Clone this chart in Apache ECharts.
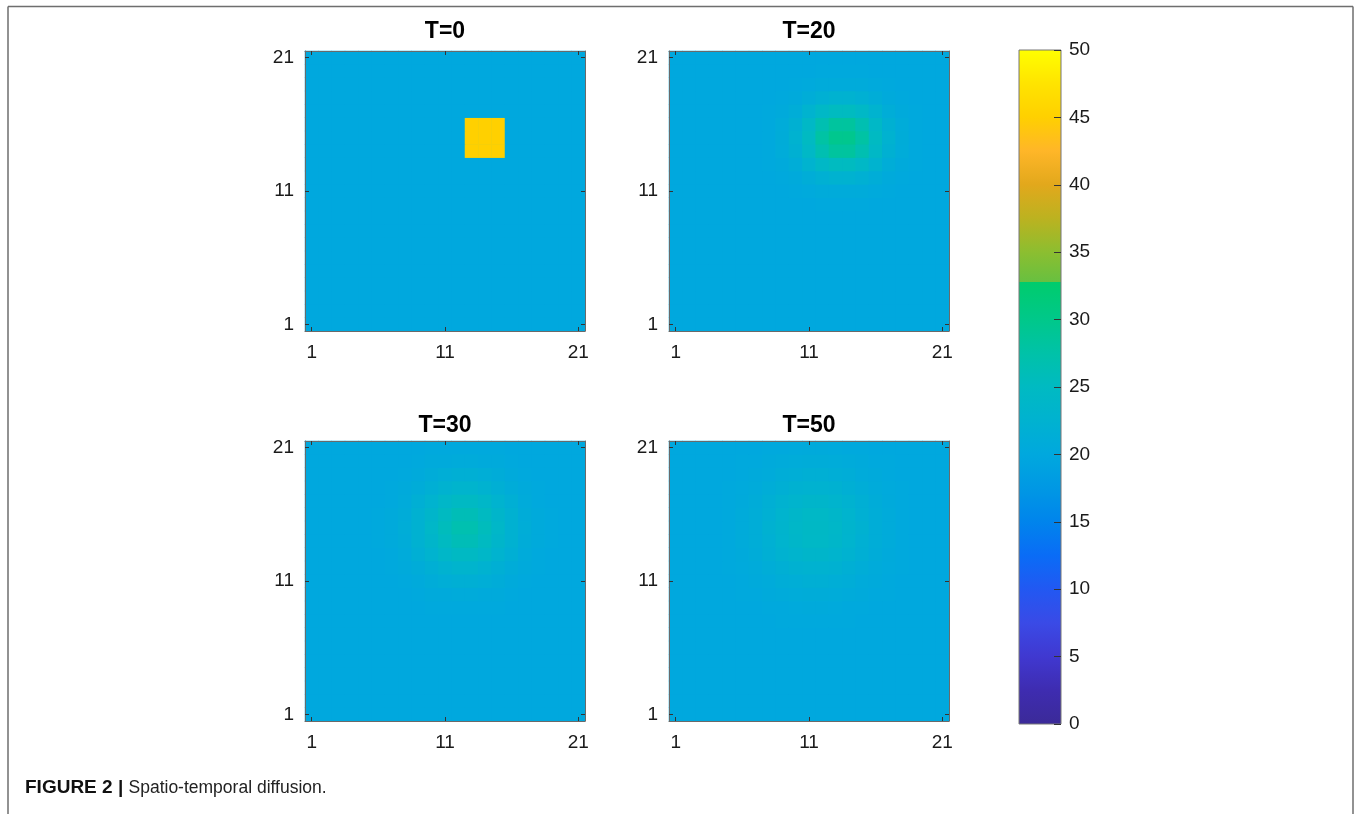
<!DOCTYPE html>
<html><head><meta charset="utf-8">
<script src="https://cdn.jsdelivr.net/npm/echarts@6/dist/echarts.min.js"></script>
<style>html,body{margin:0;padding:0;background:#fff}#c{width:1356px;height:814px}</style>
</head><body><div id="c"></div>
<script>
// ---------- data ----------
const gridCategories = ['1','2','3','4','5','6','7','8','9','10','11','12','13','14','15','16','17','18','19','20','21'];
const gridTickLabels = ['1','11','21'];
const panelTitles = ['T=0','T=20','T=30','T=50'];
const colorbarMin = 0, colorbarMax = 50, colorbarStep = 5;
const backgroundValue = 20;

// T=0 : source block
const t0FirstCol = 13, t0TopRow = 16;
const t0Rows = [
  [45,45,45],
  [45,45,45],
  [45,45,45]
];

// T=20 : columns 8..19, rows 20 (top) .. 10
const t20FirstCol = 8, t20TopRow = 20;
const t20Rows = [
  [20.0,20.0,20.1,20.1,20.2,20.2,20.2,20.2,20.1,20.1,20.0,20.0],
  [20.0,20.1,20.2,20.4,20.7,20.8,20.8,20.7,20.4,20.2,20.1,20.0],
  [20.1,20.3,20.6,21.2,21.9,22.4,22.4,21.9,21.2,20.6,20.3,20.1],
  [20.2,20.5,21.3,22.7,24.2,25.2,25.2,24.2,22.7,21.3,20.5,20.2],
  [20.3,20.9,22.1,24.2,26.6,28.3,28.3,26.6,24.2,22.1,20.9,20.3],
  [20.3,21.0,22.5,24.9,27.8,29.7,29.7,27.8,24.9,22.5,21.0,20.3],
  [20.3,20.9,22.1,24.2,26.6,28.3,28.3,26.6,24.2,22.1,20.9,20.3],
  [20.2,20.5,21.3,22.7,24.2,25.2,25.2,24.2,22.7,21.3,20.5,20.2],
  [20.1,20.3,20.6,21.2,21.9,22.4,22.4,21.9,21.2,20.6,20.3,20.1],
  [20.0,20.1,20.2,20.4,20.7,20.8,20.8,20.7,20.4,20.2,20.1,20.0],
  [20.0,20.0,20.1,20.1,20.2,20.2,20.2,20.2,20.1,20.1,20.0,20.0]
];

// T=30 : columns 6..19, rows 21 (top) .. 9
const t30FirstCol = 6, t30TopRow = 21;
const t30Rows = [
  [20.0,20.0,20.1,20.1,20.2,20.2,20.3,20.3,20.2,20.2,20.1,20.1,20.0,20.0],
  [20.0,20.1,20.1,20.3,20.5,20.6,20.8,20.8,20.6,20.5,20.3,20.1,20.1,20.0],
  [20.0,20.1,20.3,20.6,21.0,21.4,21.7,21.7,21.4,21.0,20.6,20.3,20.1,20.0],
  [20.1,20.2,20.5,21.1,21.8,22.6,23.0,23.0,22.6,21.8,21.1,20.5,20.2,20.1],
  [20.1,20.3,20.8,21.7,22.8,24.0,24.7,24.7,24.0,22.8,21.7,20.8,20.3,20.1],
  [20.2,20.5,21.1,22.2,23.6,25.1,26.1,26.1,25.1,23.6,22.2,21.1,20.5,20.2],
  [20.2,20.5,21.2,22.3,24.0,25.6,26.7,26.7,25.6,24.0,22.3,21.2,20.5,20.2],
  [20.2,20.5,21.1,22.2,23.6,25.1,26.1,26.1,25.1,23.6,22.2,21.1,20.5,20.2],
  [20.1,20.3,20.8,21.7,22.8,24.0,24.7,24.7,24.0,22.8,21.7,20.8,20.3,20.1],
  [20.1,20.2,20.5,21.1,21.8,22.6,23.0,23.0,22.6,21.8,21.1,20.5,20.2,20.1],
  [20.0,20.1,20.3,20.6,21.0,21.4,21.7,21.7,21.4,21.0,20.6,20.3,20.1,20.0],
  [20.0,20.1,20.1,20.3,20.5,20.6,20.8,20.8,20.6,20.5,20.3,20.1,20.1,20.0],
  [20.0,20.0,20.1,20.1,20.2,20.2,20.3,20.3,20.2,20.2,20.1,20.1,20.0,20.0]
];

// T=50 : columns 4..19, rows 21 (top) .. 8
const t50FirstCol = 4, t50TopRow = 21;
const t50Rows = [
  [20.0,20.0,20.1,20.1,20.2,20.3,20.4,20.5,20.5,20.4,20.3,20.2,20.1,20.1,20.0,20.0],
  [20.0,20.1,20.2,20.3,20.5,20.7,20.9,21.0,21.0,20.9,20.7,20.5,20.3,20.2,20.1,20.0],
  [20.1,20.1,20.3,20.5,20.8,21.2,21.5,21.7,21.7,21.5,21.2,20.8,20.5,20.3,20.1,20.1],
  [20.1,20.2,20.4,20.8,21.2,21.8,22.3,22.6,22.6,22.3,21.8,21.2,20.8,20.4,20.2,20.1],
  [20.1,20.3,20.6,21.0,21.7,22.4,23.1,23.5,23.5,23.1,22.4,21.7,21.0,20.6,20.3,20.1],
  [20.1,20.3,20.7,21.2,22.0,22.9,23.8,24.3,24.3,23.8,22.9,22.0,21.2,20.7,20.3,20.1],
  [20.1,20.3,20.7,21.3,22.2,23.1,24.0,24.5,24.5,24.0,23.1,22.2,21.3,20.7,20.3,20.1],
  [20.1,20.3,20.7,21.2,22.0,22.9,23.8,24.3,24.3,23.8,22.9,22.0,21.2,20.7,20.3,20.1],
  [20.1,20.3,20.6,21.0,21.7,22.4,23.1,23.5,23.5,23.1,22.4,21.7,21.0,20.6,20.3,20.1],
  [20.1,20.2,20.4,20.8,21.2,21.8,22.3,22.6,22.6,22.3,21.8,21.2,20.8,20.4,20.2,20.1],
  [20.1,20.1,20.3,20.5,20.8,21.2,21.5,21.7,21.7,21.5,21.2,20.8,20.5,20.3,20.1,20.1],
  [20.0,20.1,20.2,20.3,20.5,20.7,20.9,21.0,21.0,20.9,20.7,20.5,20.3,20.2,20.1,20.0],
  [20.0,20.0,20.1,20.1,20.2,20.3,20.4,20.5,20.5,20.4,20.3,20.2,20.1,20.1,20.0,20.0],
  [20.0,20.0,20.0,20.1,20.1,20.2,20.2,20.2,20.2,20.2,20.2,20.1,20.1,20.0,20.0,20.0]
];

// colormap key stops (value, colour)
const colormapStops = [
  [0,'#3b2a98'],[2.5,'#3e2cb0'],[5,'#4038d0'],[7.5,'#3a4ae6'],[10,'#2258f2'],
  [12.5,'#0a6cf6'],[15,'#0084ec'],[17.5,'#0098e4'],[20,'#00a8de'],[22.5,'#00b2d0'],
  [25,'#00bac2'],[27.5,'#00c2a8'],[30,'#00c88a'],[32.8,'#00cc6c'],[32.8,'#68c040'],
  [35,'#8cbe30'],[37.5,'#bcb220'],[40,'#e2a81c'],[42.5,'#ffb628'],[45,'#ffd000'],
  [47.5,'#ffe400'],[50,'#ffff00']
];

// ---------- helpers ----------
function hexToRgb(h){return [parseInt(h.slice(1,3),16),parseInt(h.slice(3,5),16),parseInt(h.slice(5,7),16)];}
function colorAt(v){
  for(let i=0;i<colormapStops.length-1;i++){
    const a=colormapStops[i], b=colormapStops[i+1];
    if(v>=a[0] && v<=b[0]){
      const t = b[0]===a[0]?0:(v-a[0])/(b[0]-a[0]);
      const ca=hexToRgb(a[1]), cb=hexToRgb(b[1]);
      return 'rgb('+ca.map((c,k)=>Math.round(c+(cb[k]-c)*t)).join(',')+')';
    }
  }
  return colormapStops[colormapStops.length-1][1];
}
const visualColors=[];
for(let s=0;s<=200;s++){visualColors.push(colorAt(colorbarMin+(colorbarMax-colorbarMin)*s/200));}

function buildField(firstCol, topRow, rows){
  const data=[];
  for(let y=1;y<=gridCategories.length;y++){
    for(let x=1;x<=gridCategories.length;x++){
      let v=backgroundValue;
      const r=topRow-y, c=x-firstCol;
      if(r>=0 && r<rows.length && c>=0 && c<rows[r].length) v=rows[r][c];
      data.push([x-1,y-1,v]);
    }
  }
  return data;
}
const fields=[
  buildField(t0FirstCol,t0TopRow,t0Rows),
  buildField(t20FirstCol,t20TopRow,t20Rows),
  buildField(t30FirstCol,t30TopRow,t30Rows),
  buildField(t50FirstCol,t50TopRow,t50Rows)
];

// ---------- layout ----------
const FONT='"Liberation Sans", Arial, Helvetica, sans-serif';
const panelRects=[
  {left:305,top:51},{left:669,top:51},{left:305,top:441},{left:669,top:441}
];
const panelSize=280;
const cbRect={left:1019,top:50,width:42,height:674};
const tickFn=(idx,val)=>gridTickLabels.indexOf(String(val))>=0;
const lineCol='#6a6a6a', tickCol='#333', textCol='#1a1a1a';

const grids=[], xAxes=[], yAxes=[], series=[];
panelRects.forEach((p,i)=>{
  grids.push({left:p.left,top:p.top,width:panelSize,height:panelSize,containLabel:false,
    show:true,backgroundColor:colorAt(backgroundValue),borderWidth:0});
  const base={type:'category',gridIndex:i,data:gridCategories,z:5,
    axisLine:{show:true,onZero:false,lineStyle:{color:lineCol,width:1}},
    axisTick:{show:true,inside:true,length:4,alignWithLabel:true,interval:tickFn,lineStyle:{color:tickCol}},
    splitLine:{show:false},splitArea:{show:false}};
  xAxes.push(Object.assign({},base,{position:'bottom',
    axisLabel:{show:true,interval:tickFn,margin:12,fontSize:19,color:textCol,fontFamily:FONT}}));
  xAxes.push(Object.assign({},base,{position:'top',axisLabel:{show:false}}));
  yAxes.push(Object.assign({},base,{position:'left',
    axisLabel:{show:true,interval:tickFn,margin:11,fontSize:19,color:textCol,fontFamily:FONT}}));
  yAxes.push(Object.assign({},base,{position:'right',axisLabel:{show:false}}));
  series.push({type:'heatmap',name:panelTitles[i],xAxisIndex:2*i,yAxisIndex:2*i,data:fields[i],
    itemStyle:{borderWidth:0},emphasis:{disabled:true},progressive:0});
});
// colorbar axis grid
grids.push({left:cbRect.left,top:cbRect.top,width:cbRect.width,height:cbRect.height});
xAxes.push({type:'category',gridIndex:4,show:false,data:['c']});
yAxes.push({type:'value',gridIndex:4,min:colorbarMin,max:colorbarMax,interval:colorbarStep,position:'right',z:8,
  axisLine:{show:false,onZero:false},splitLine:{show:false},
  axisTick:{show:true,inside:true,length:7,lineStyle:{color:tickCol}},
  axisLabel:{margin:8,fontSize:19,color:textCol,fontFamily:FONT}});

const gradStops=colormapStops.map(s=>({offset:(s[0]-colorbarMin)/(colorbarMax-colorbarMin),color:s[1]}));

const graphics=[
  {type:'rect',z:-1,shape:{x:cbRect.left,y:cbRect.top,width:cbRect.width,height:cbRect.height},
    style:{fill:new echarts.graphic.LinearGradient(0,1,0,0,gradStops),stroke:'#777',lineWidth:1}},
  {type:'line',z:1,shape:{x1:8,y1:6.5,x2:1353,y2:6.5},style:{stroke:'#6e6e6e',lineWidth:1.5}},
  {type:'line',z:1,shape:{x1:8,y1:6.5,x2:8,y2:814},style:{stroke:'#6e6e6e',lineWidth:1.5}},
  {type:'line',z:1,shape:{x1:1353,y1:6.5,x2:1353,y2:814},style:{stroke:'#6e6e6e',lineWidth:1.5}},
  {type:'text',z:10,style:{x:25,y:788,text:'FIGURE 2 |',font:'bold 19px '+FONT,fill:'#111',verticalAlign:'middle',align:'left'}},
  {type:'text',z:10,style:{x:128.5,y:788,text:'Spatio-temporal diffusion.',font:'17.5px '+FONT,fill:'#222',verticalAlign:'middle',align:'left'}}
];
const titleCenters=[[445,31.5],[809,31.5],[445,425.5],[809,425.5]];
panelTitles.forEach((t,i)=>{
  graphics.push({type:'text',z:10,style:{x:titleCenters[i][0],y:titleCenters[i][1],text:t,
    font:'bold 23px '+FONT,fill:'#000',align:'center',verticalAlign:'middle'}});
});

const chart=echarts.init(document.getElementById('c'),null,{renderer:'canvas'});
chart.setOption({
  animation:false,
  backgroundColor:'#ffffff',
  grid:grids,xAxis:xAxes,yAxis:yAxes,
  visualMap:{type:'continuous',show:false,min:colorbarMin,max:colorbarMax,seriesIndex:[0,1,2,3],
    inRange:{color:visualColors}},
  series:series,
  graphic:graphics
});
</script></body></html>
